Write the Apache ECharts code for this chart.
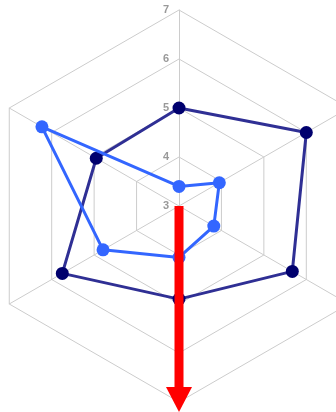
<!DOCTYPE html>
<html>
<head>
<meta charset="utf-8">
<script src="https://cdn.jsdelivr.net/npm/echarts@6/dist/echarts.min.js"></script>
<style>
  html, body { margin: 0; padding: 0; background: #fff; }
  #chart { width: 336px; height: 412px; }
</style>
</head>
<body>
<div id="chart"></div>
<script>
// radar axes (top first, then counter-clockwise)
const indicators = ["A", "B", "C", "D", "E", "F"];
const axisMin = 3;
const axisMax = 7;
const navyValues = [5, 4.95, 5.75, 4.9, 5.67, 6.0];
const blueValues = [3.4, 6.23, 4.79, 4.05, 3.82, 3.95];

const cx = 179, cy = 206, radius = 196;

const chart = echarts.init(document.getElementById("chart"));

let option = {
  animation: false,
  radar: {
    center: [cx, cy],
    radius: radius,
    startAngle: 90,
    splitNumber: 4,
    shape: "polygon",
    axisName: { show: false },
    indicator: indicators.map((n, i) => ({
      name: n,
      min: axisMin,
      max: axisMax,
      axisLabel: {
        show: i === 0,
        color: "#999",
        fontSize: 11,
        fontWeight: "bold",
        fontFamily: "Liberation Sans",
        margin: 10,
      },
    })),
    axisLine: { lineStyle: { color: "#ccc", width: 1 } },
    splitLine: { lineStyle: { color: "#ccc", width: 1 } },
    splitArea: { show: false },
  },
  series: [
    {
      type: "radar",
      symbol: "circle",
      symbolSize: 13,
      z: 2,
      data: [
        {
          value: navyValues,
          itemStyle: { color: "#00006e" },
          lineStyle: { color: "#2f2f94", width: 3 },
        },
      ],
    },
    {
      type: "radar",
      symbol: "circle",
      symbolSize: 13,
      z: 3,
      data: [
        {
          value: blueValues,
          itemStyle: { color: "#3366ff" },
          lineStyle: { color: "#3366ff", width: 3 },
        },
      ],
    },
  ],
  graphic: [
    {
      type: "rect",
      z: 100,
      shape: { x: cx - 4.5, y: cy, width: 9, height: radius - 15 },
      style: { fill: "#ff0000" },
    },
    {
      type: "polygon",
      z: 100,
      shape: {
        points: [
          [cx - 13, cy + radius - 15],
          [cx + 13, cy + radius - 15],
          [cx, cy + radius + 10],
        ],
      },
      style: { fill: "#ff0000" },
    },
  ],
};
chart.setOption(option);
</script>
</body>
</html>
